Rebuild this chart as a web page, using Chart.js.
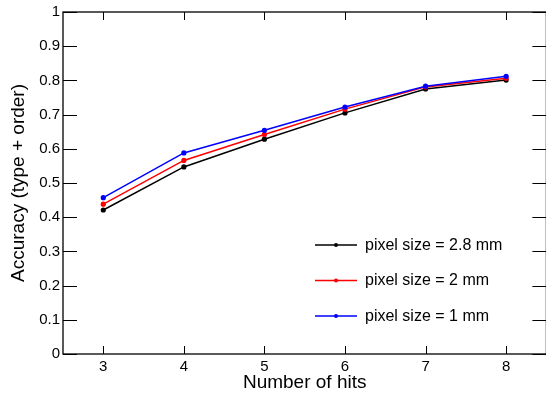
<!DOCTYPE html>
<html><head><meta charset="utf-8">
<script src="https://cdn.jsdelivr.net/npm/chart.js@4"></script>
<style>
html,body{margin:0;padding:0;background:#fff;overflow:hidden;}
#wrap{width:549px;height:399px;position:relative;}
</style></head>
<body><div id="wrap"><canvas id="c"></canvas></div>
<script>
const hits = [3, 4, 5, 6, 7, 8];
const acc28 = [0.421, 0.547, 0.628, 0.705, 0.775, 0.801];
const acc2  = [0.438, 0.566, 0.642, 0.716, 0.781, 0.806];
const acc1  = [0.457, 0.588, 0.654, 0.722, 0.783, 0.812];
const yTicks = [0, 0.1, 0.2, 0.3, 0.4, 0.5, 0.6, 0.7, 0.8, 0.9, 1];
const labels = ['pixel size = 2.8 mm', 'pixel size = 2 mm', 'pixel size = 1 mm'];
const colors = ['#000000', '#ff0000', '#0000ff'];
const series = [acc28, acc2, acc1];
const FONT = "'Liberation Sans', Arial, sans-serif";

const datasets = series.map((s, i) => ({
  label: labels[i],
  data: s.map((v, k) => ({x: hits[k], y: v})),
  borderColor: colors[i],
  backgroundColor: colors[i],
  borderWidth: 1.5,
  pointRadius: 2.6,
  pointHoverRadius: 2.6,
  pointBorderWidth: 0,
  tension: 0,
  order: 3 - i
}));

const framePlugin = {
  id: 'frame',
  afterDatasetsDraw(chart) {
    const ctx = chart.ctx, a = chart.chartArea;
    const xs = chart.scales.x, ys = chart.scales.y;
    ctx.save();
    ctx.strokeStyle = '#000';
    ctx.lineWidth = 1.3;
    ctx.strokeRect(a.left, a.top, a.right - a.left, a.bottom - a.top);
    ctx.lineWidth = 1;
    hits.forEach(v => {
      const px = Math.round(xs.getPixelForValue(v)) + 0.5;
      ctx.beginPath(); ctx.moveTo(px, a.bottom); ctx.lineTo(px, a.bottom - 8); ctx.stroke();
      ctx.beginPath(); ctx.moveTo(px, a.top); ctx.lineTo(px, a.top + 8); ctx.stroke();
    });
    yTicks.forEach(v => {
      const py = Math.round(ys.getPixelForValue(v)) + 0.5;
      ctx.beginPath(); ctx.moveTo(a.left, py); ctx.lineTo(a.left + 14, py); ctx.stroke();
      ctx.beginPath(); ctx.moveTo(a.right, py); ctx.lineTo(a.right - 14, py); ctx.stroke();
    });
    // legend
    const lx0 = a.left + 252, lx1 = a.left + 294, ly0 = a.top + 233, dy = 35.5;
    ctx.font = '16px ' + FONT;
    ctx.textBaseline = 'middle';
    ctx.textAlign = 'left';
    chart.data.datasets.forEach((d, i) => {
      const y = ly0 + i * dy;
      ctx.strokeStyle = d.borderColor; ctx.lineWidth = 1.5;
      ctx.beginPath(); ctx.moveTo(lx0, y); ctx.lineTo(lx1, y); ctx.stroke();
      ctx.fillStyle = d.borderColor;
      ctx.beginPath(); ctx.arc((lx0 + lx1) / 2, y, 2, 0, Math.PI * 2); ctx.fill();
      ctx.fillStyle = '#000';
      ctx.fillText(d.label, lx1 + 8, y + 0.5);
    });
    ctx.restore();
  }
};

new Chart(document.getElementById('c'), {
  type: 'line',
  data: { datasets },
  options: {
    responsive: true,
    maintainAspectRatio: false,
    animation: false,
    events: [],
    layout: { padding: { top: 10, right: 0, left: 0, bottom: 0 } },
    plugins: { legend: { display: false }, tooltip: { enabled: false } },
    scales: {
      x: {
        type: 'linear', min: 2.5, max: 8.5,
        afterBuildTicks: s => { s.ticks = hits.map(v => ({value: v})); },
        afterFit: s => { s.height = 45; },
        grid: { display: false, drawTicks: false, tickLength: 0 },
        border: { display: false },
        ticks: { color: '#000', font: { family: FONT, size: 15 }, padding: 4, maxRotation: 0 },
        title: { display: true, text: 'Number of hits', color: '#000', font: { family: FONT, size: 19 }, padding: { top: 0, bottom: 5 } }
      },
      y: {
        type: 'linear', min: 0, max: 1,
        afterBuildTicks: s => { s.ticks = yTicks.map(v => ({value: v})); },
        afterFit: s => { s.width = 63; },
        grid: { display: false, drawTicks: false, tickLength: 0 },
        border: { display: false },
        ticks: { color: '#000', font: { family: FONT, size: 15 }, padding: 3, callback: v => String(v) },
        title: { display: true, text: 'Accuracy (type + order)', color: '#000', font: { family: FONT, size: 19 }, padding: { top: 7, bottom: 0 } }
      }
    }
  },
  plugins: [framePlugin]
});
</script></body></html>
